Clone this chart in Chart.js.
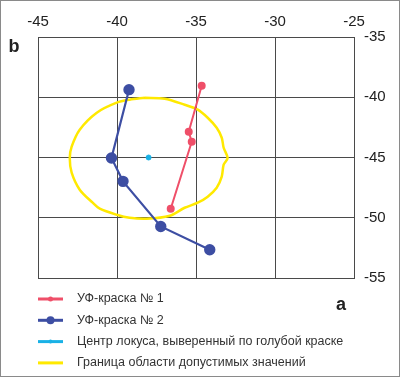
<!DOCTYPE html>
<html>
<head>
<meta charset="utf-8">
<script src="https://cdn.jsdelivr.net/npm/chart.js@4/dist/chart.umd.min.js"></script>
<style>
html, body { margin: 0; padding: 0; background: #fff; }
#wrap { width: 400px; height: 377px; position: relative; }
</style>
</head>
<body>
<div id="wrap"><canvas id="lociChart"></canvas></div>
<script>
// axis ticks
var xTicks = [-45, -40, -35, -30, -25];
var yTicks = [-35, -40, -45, -50, -55];

// series
var paint1A = [-34.64, -35.46, -35.27, -36.6];
var paint1B = [-39.04, -42.86, -43.69, -49.25];
var paint2A = [-39.24, -40.35, -39.62, -37.23, -34.13];
var paint2B = [-39.37, -45.04, -46.98, -50.72, -52.65];
var centerA = [-38.0];
var centerB = [-45.0];
var borderA = [-38.25, -36.98, -35.72, -34.89, -34.26, -33.69, -33.37, -33.25, -33.0, -33.25, -33.37, -33.69,
	-34.26, -34.89, -35.72, -36.66, -38.12, -39.2, -40.02, -41.09, -41.54, -42.36, -42.87, -42.99,
	-42.87, -42.36, -41.28, -40.02, -39.2, -38.25];
var borderB = [-40.04, -40.12, -40.62, -41.03, -41.7, -42.53, -43.36, -44.19, -45.04, -45.6, -46.59, -47.51,
	-48.25, -48.75, -49.17, -49.83, -50.08, -50.0, -49.75, -49.25, -48.75, -47.67, -46.26, -45.04,
	-44.1, -42.69, -41.28, -40.45, -40.2, -40.04];

var labels = [
	'УФ-краска № 1',
	'УФ-краска № 2',
	'Центр локуса, выверенный по голубой краске',
	'Граница области допустимых значений'
];

function pts(a, b) {
	return a.map(function (v, i) { return {x: v, y: b[i]}; });
}

var frame = {
	id: 'frame',
	afterDraw: function (chart) {
		var c = chart.ctx;
		c.save();
		c.strokeStyle = '#8a8a8a';
		c.lineWidth = 1;
		c.strokeRect(0.5, 0.5, chart.width - 1, chart.height - 1);

		// legend, one row per dataset
		chart.data.datasets.forEach(function (ds, i) {
			var y = 299 + i * 21.3;
			c.strokeStyle = ds.borderColor;
			c.lineWidth = 3;
			c.beginPath();
			c.moveTo(38, y);
			c.lineTo(63, y);
			c.stroke();
			if (ds.legendDot > 0) {
				c.fillStyle = ds.borderColor;
				c.beginPath();
				c.arc(50.5, y, ds.legendDot, 0, Math.PI * 2);
				c.fill();
			}
			c.fillStyle = '#333';
			c.font = '12.5px "Liberation Sans", Arial, sans-serif';
			c.textBaseline = 'middle';
			c.textAlign = 'left';
			c.fillText(ds.label, 77, y);
		});

		c.fillStyle = '#222';
		c.font = 'bold 18px "Liberation Sans", Arial, sans-serif';
		c.textAlign = 'center';
		c.textBaseline = 'middle';
		c.fillText('b', 14, 47);
		c.fillText('a', 341, 305);
		c.restore();
	}
};

var ctx = document.getElementById('lociChart').getContext('2d');
var lociChart = new Chart(ctx, {
	type: 'scatter',
	data: {
		datasets: [
			{
				label: labels[0],
				data: pts(paint1A, paint1B),
				showLine: true,
				borderColor: '#ef4f69',
				backgroundColor: '#ef4f69',
				borderWidth: 2,
				pointRadius: 3,
				pointHoverRadius: 3,
				legendDot: 2.5
			},
			{
				label: labels[1],
				data: pts(paint2A, paint2B),
				showLine: true,
				borderColor: '#3d4ea3',
				backgroundColor: '#3d4ea3',
				borderWidth: 2.2,
				pointRadius: 4.6,
				pointHoverRadius: 4.6,
				legendDot: 4
			},
			{
				label: labels[2],
				data: pts(centerA, centerB),
				borderColor: '#19b1e6',
				backgroundColor: '#19b1e6',
				pointRadius: 2.5,
				pointHoverRadius: 2.5,
				legendDot: 2
			},
			{
				label: labels[3],
				data: pts(borderA, borderB),
				showLine: true,
				tension: 0.3,
				borderColor: '#ffe900',
				backgroundColor: '#ffe900',
				borderWidth: 2.5,
				pointRadius: 0,
				pointHoverRadius: 0,
				legendDot: 0
			}
		]
	},
	options: {
		responsive: true,
		maintainAspectRatio: false,
		animation: false,
		layout: { padding: { left: 38, top: 0, right: 0, bottom: 99 } },
		plugins: {
			legend: { display: false },
			tooltip: { enabled: false }
		},
		scales: {
			x: {
				type: 'linear',
				position: 'top',
				min: -45,
				max: -25,
				afterBuildTicks: function (s) { s.ticks = xTicks.map(function (v) { return {value: v}; }); },
				afterFit: function (s) { s.height = 37; },
				grid: { color: '#4a4a4a', lineWidth: 1, drawTicks: false },
				border: { color: '#4a4a4a' },
				ticks: {
					padding: 6,
					color: '#222',
					font: { size: 15, family: '"Liberation Sans", Arial, sans-serif' }
				}
			},
			y: {
				type: 'linear',
				position: 'right',
				min: -55,
				max: -35,
				afterBuildTicks: function (s) { s.ticks = yTicks.map(function (v) { return {value: v}; }); },
				afterFit: function (s) { s.width = 46; },
				grid: { color: '#4a4a4a', lineWidth: 1, drawTicks: false },
				border: { color: '#4a4a4a' },
				ticks: {
					padding: 10,
					color: '#222',
					font: { size: 15, family: '"Liberation Sans", Arial, sans-serif' }
				}
			}
		}
	},
	plugins: [frame]
});

function resizeChart() {
	lociChart.resize();
}

window.addEventListener('resize', resizeChart);
</script>
</body>
</html>
